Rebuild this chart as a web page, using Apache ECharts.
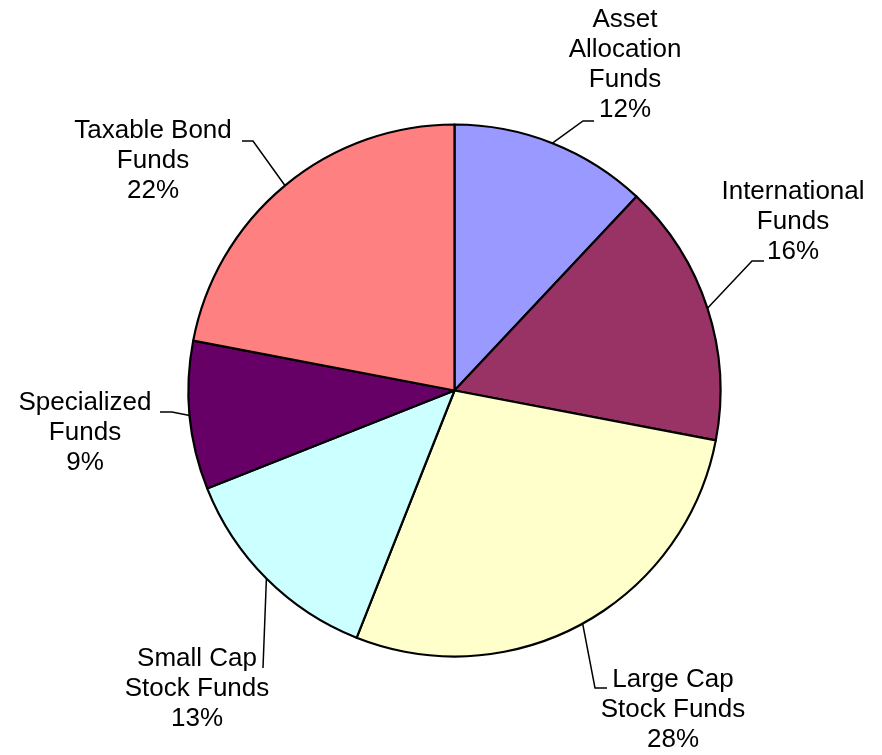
<!DOCTYPE html>
<html>
<head>
<meta charset="utf-8">
<script src="https://cdn.jsdelivr.net/npm/echarts@6/dist/echarts.min.js"></script>
<style>
  html, body { margin: 0; padding: 0; background: #ffffff; }
  #chart { width: 882px; height: 755px; }
</style>
</head>
<body>
<div id="chart"></div>
<script>
// Fund categories (clockwise from 12 o'clock) and their shares in percent
const categories = [
  'Asset\nAllocation\nFunds',
  'International\nFunds',
  'Large Cap\nStock Funds',
  'Small Cap\nStock Funds',
  'Specialized\nFunds',
  'Taxable Bond\nFunds'
];
const shares = [12, 16, 28, 13, 9, 22];
const sliceColors = ['#9999FF', '#993366', '#FFFFCC', '#CCFFFF', '#660066', '#FF8080'];

// Label block centres and leader-line elbows, in pixels
const labelSpots = [
  { x: 625, y: 65,  pts: [[583, 121], [594, 121]] },
  { x: 793, y: 222, pts: [[752, 261], [764, 261]] },
  { x: 673, y: 710, pts: [[595, 688], [607, 688]] },
  { x: 197, y: 689, pts: [[263, 668], [263, 668]] },
  { x: 85,  y: 433, pts: [[172, 412], [160, 412]] },
  { x: 153, y: 161, pts: [[253, 141], [242, 141]] }
];

const chart = echarts.init(document.getElementById('chart'), null, { renderer: 'canvas' });

chart.setOption({
  backgroundColor: '#ffffff',
  animation: false,
  series: [{
    type: 'pie',
    center: [454.5, 390.5],
    radius: [0, 266],
    startAngle: 90,
    clockwise: true,
    avoidLabelOverlap: false,
    data: categories.map((name, i) => ({
      name: name,
      value: shares[i],
      itemStyle: { color: sliceColors[i] }
    })),
    itemStyle: { borderColor: '#000000', borderWidth: 2.2 },
    emphasis: { disabled: true },
    label: {
      show: true,
      position: 'outside',
      formatter: p => p.name + '\n' + p.value + '%',
      fontFamily: '"Liberation Sans", Arial, sans-serif',
      fontSize: 26,
      lineHeight: 30,
      color: '#000000',
      align: 'center'
    },
    labelLine: {
      show: true,
      lineStyle: { color: '#000000', width: 1.5 }
    },
    labelLayout: function (params) {
      const spot = labelSpots[params.dataIndex];
      const start = params.labelLinePoints ? params.labelLinePoints[0] : [0, 0];
      return {
        x: spot.x,
        y: spot.y,
        align: 'center',
        verticalAlign: 'middle',
        labelLinePoints: [start, spot.pts[0], spot.pts[1]]
      };
    }
  }]
});
</script>
</body>
</html>
